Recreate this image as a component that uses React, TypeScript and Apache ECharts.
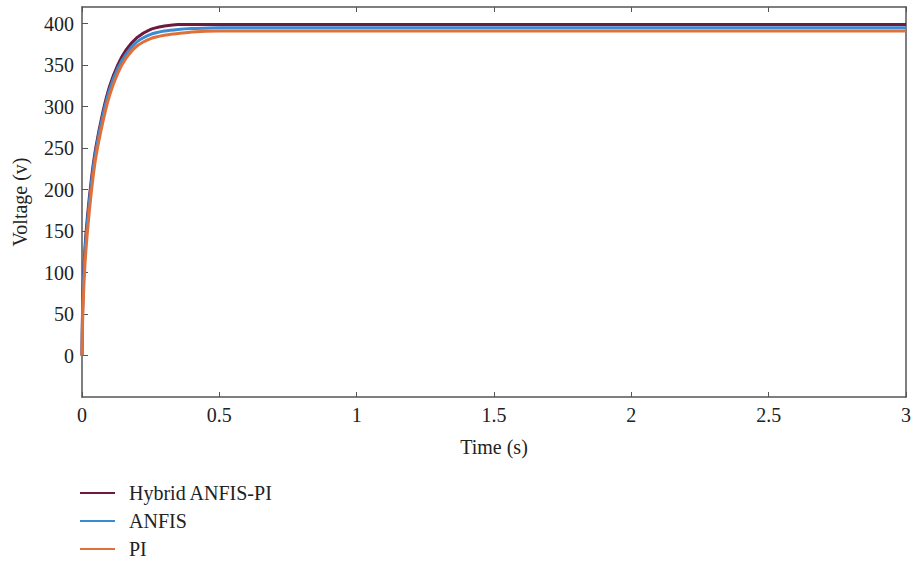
import React, { useEffect, useRef } from "react";
import * as echarts from "echarts";

const time = [0, 0.003, 0.01, 0.02, 0.035, 0.05, 0.075, 0.1, 0.13, 0.16, 0.2, 0.25, 0.3, 0.35, 0.4, 0.5, 1, 1.5, 2, 2.5, 3];
const hybrid = [0, 70, 125, 168, 215, 250, 292, 324, 350, 368, 383, 393, 397, 399, 399, 399, 399, 399, 399, 399, 399];
const anfis = [0, 65, 120, 162, 210, 246, 288, 320, 346, 363, 378, 387, 391, 393, 394, 395, 395, 395, 395, 395, 395];
const pi = [0, 50, 105, 150, 200, 238, 280, 313, 340, 358, 373, 382, 386, 388, 390, 391, 391, 391, 391, 391, 391];
const seriesNames = ["Hybrid ANFIS-PI", "ANFIS", "PI"];
const colors = ["#6e1a3c", "#3a8ad4", "#e0703a"];

const FONT = "'Liberation Serif', 'DejaVu Serif', serif";

export default function App() {
  const ref = useRef<HTMLDivElement>(null);
  useEffect(() => {
    if (!ref.current) return;
    const chart = echarts.init(ref.current, undefined, { renderer: "svg" });
    const mk = (vals: number[]) => time.map((t, i) => [t, vals[i]]);
    const axisLine = { show: true, onZero: false, lineStyle: { color: "#555", width: 1.5 } };
    chart.setOption({
      animation: false,
      backgroundColor: "#fff",
      grid: { left: 82, right: 5, top: 7, bottom: 167, containLabel: false },
      legend: {
        orient: "vertical",
        left: 80,
        top: 483,
        height: 90,
        icon: "rect",
        itemWidth: 35,
        itemHeight: 2,
        itemGap: 8,
        padding: 0,
        data: seriesNames,
        textStyle: { fontFamily: FONT, fontSize: 20, color: "#222", padding: [0, 0, 0, 9], lineHeight: 20 },
      },
      xAxis: [
        {
          type: "value",
          min: 0,
          max: 3,
          interval: 0.5,
          name: "Time (s)",
          nameLocation: "middle",
          nameGap: 40,
          nameTextStyle: { fontFamily: FONT, fontSize: 20, color: "#222" },
          axisLine,
          axisTick: { inside: true, length: 5, lineStyle: { color: "#555" } },
          axisLabel: { fontFamily: FONT, fontSize: 20, color: "#222", margin: 8 },
          splitLine: { show: false },
        },
        {
          type: "value",
          position: "top",
          min: 0,
          max: 3,
          interval: 0.5,
          axisLine,
          axisTick: { inside: true, length: 5, lineStyle: { color: "#555" } },
          axisLabel: { show: false },
          splitLine: { show: false },
        },
      ],
      yAxis: [
        {
          type: "value",
          min: -50,
          max: 420,
          interval: 50,
          name: "Voltage (v)",
          nameLocation: "middle",
          nameGap: 52,
          nameTextStyle: { fontFamily: FONT, fontSize: 20, color: "#222" },
          axisLine,
          axisTick: { inside: true, length: 6, lineStyle: { color: "#555" } },
          axisLabel: {
            fontFamily: FONT,
            fontSize: 20,
            color: "#222",
            margin: 8,
            showMinLabel: false,
            showMaxLabel: false,
          },
          splitLine: { show: false },
        },
        {
          type: "value",
          position: "right",
          min: -50,
          max: 420,
          interval: 50,
          axisLine,
          axisTick: { show: false },
          axisLabel: { show: false },
          splitLine: { show: false },
        },
      ],
      series: [hybrid, anfis, pi].map((vals, i) => ({
        name: seriesNames[i],
        type: "line",
        data: mk(vals),
        showSymbol: false,
        smooth: 0.3,
        color: colors[i],
        lineStyle: { color: colors[i], width: 3 },
      })),
    });
    return () => chart.dispose();
  }, []);
  return <div ref={ref} style={{ width: 914, height: 564, position: "absolute", left: 0, top: 0 }} />;
}
